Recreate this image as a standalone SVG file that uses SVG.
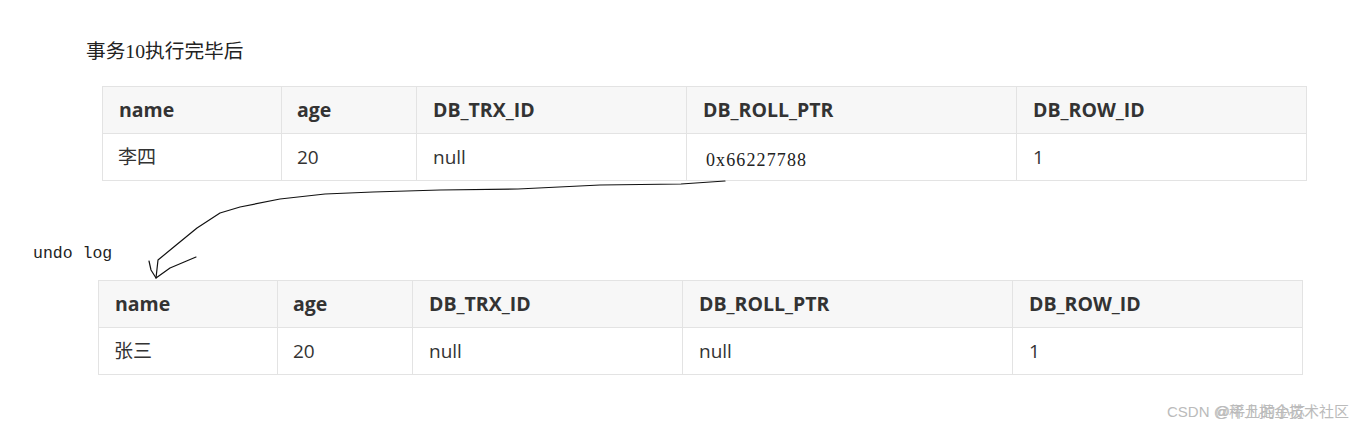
<svg xmlns="http://www.w3.org/2000/svg" width="1353" height="433" viewBox="0 0 1353 433">
<style>
.hd{fill:#f7f7f7}
.ln{stroke:#e3e3e3;stroke-width:1;fill:none}
.th{font-family:"Open Sans","Noto Sans",sans-serif;font-weight:bold;font-size:19.5px;fill:#333}
.td{font-family:"Open Sans","Noto Sans","Noto Sans CJK SC",sans-serif;font-size:19px;fill:#333}
.cap{font-family:"Liberation Serif","Noto Sans CJK SC",serif;font-size:19.7px;fill:#222}
.mono{font-family:"Liberation Mono",monospace;font-size:16.5px;fill:#222}
.ser{font-family:"Liberation Serif",serif;font-size:18px;fill:#222}
.wm{font-family:"Liberation Sans","Noto Sans CJK SC",sans-serif;font-size:15px;fill:#b4b4b4}
.cv{stroke:#111;stroke-width:1.2;fill:none;stroke-linecap:round;stroke-linejoin:round}
</style>
<rect width="1353" height="433" fill="#fff"/>
<text id="title" class="cap" x="86" y="58">事务10执行完毕后</text>
<g id="table1">
<rect class="hd" x="102.5" y="86.5" width="1204" height="47"/>
<rect class="ln" x="102.5" y="86.5" width="1204" height="94"/>
<path class="ln" d="M102.5 133.5H1306.5M281.5 86.5V180.5M416.5 86.5V180.5M686.5 86.5V180.5M1016.5 86.5V180.5"/>
<text class="th" x="119" y="117">name</text>
<text class="th" x="297" y="117">age</text>
<text class="th" x="433" y="117">DB_TRX_ID</text>
<text class="th" x="703" y="117">DB_ROLL_PTR</text>
<text class="th" x="1033" y="117">DB_ROW_ID</text>
<text class="td" x="118" y="164">李四</text>
<text class="td" x="297" y="164">20</text>
<text class="td" x="433" y="164">null</text>
<text class="ser" x="706" y="166" textLength="100">0x66227788</text>
<text class="td" x="1033" y="164">1</text>
</g>
<text id="undolog" class="mono" x="33" y="258">undo log</text>
<g id="connectors">
<path class="cv" d="M725 181 L681 184 L600 185 L518 189 L440 190 L373 192 L325 194 L280 199 L240 207 L220 213 L197 228 L175 246 L158 260 L156 278"/>
<path class="cv" d="M149 261 L151 270 L156 278 L170 268 L196 257"/>
</g>
<g id="table2">
<rect class="hd" x="98.5" y="280.5" width="1204" height="47"/>
<rect class="ln" x="98.5" y="280.5" width="1204" height="94"/>
<path class="ln" d="M98.5 327.5H1302.5M277.5 280.5V374.5M412.5 280.5V374.5M682.5 280.5V374.5M1012.5 280.5V374.5"/>
<text class="th" x="115" y="311">name</text>
<text class="th" x="293" y="311">age</text>
<text class="th" x="429" y="311">DB_TRX_ID</text>
<text class="th" x="699" y="311">DB_ROLL_PTR</text>
<text class="th" x="1029" y="311">DB_ROW_ID</text>
<text class="td" x="114" y="358">张三</text>
<text class="td" x="293" y="358">20</text>
<text class="td" x="429" y="358">null</text>
<text class="td" x="699" y="358">null</text>
<text class="td" x="1029" y="358">1</text>
</g>
<g id="watermark" opacity="0.9">
<text class="wm" x="1167" y="417">CSDN @稀土掘金技术社区</text>
<text class="wm" x="1215" y="417">@平凡的小苏</text>
</g>
</svg>
